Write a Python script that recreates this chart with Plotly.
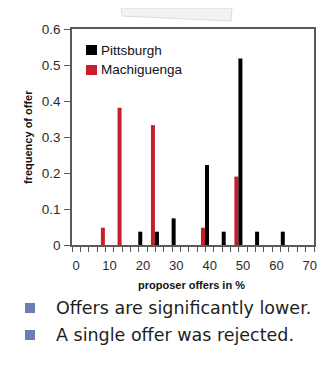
import plotly.graph_objects as go

# ---- data ----
series_names = ["Pittsburgh", "Machiguenga"]
pitt_x = [19.2, 24.2, 29.2, 39.2, 44.2, 49.2, 54.2, 61.9]
pitt_y = [0.037, 0.037, 0.074, 0.222, 0.037, 0.518, 0.037, 0.037]
mach_x = [8.0, 13.0, 23.0, 38.0, 48.0]
mach_y = [0.048, 0.381, 0.333, 0.048, 0.190]
x_ticks = [0, 10, 20, 30, 40, 50, 60, 70]
y_ticks = [0, 0.1, 0.2, 0.3, 0.4, 0.5, 0.6]
y_tick_text = ["0", "0.1", "0.2", "0.3", "0.4", "0.5", "0.6"]
bullets = ["Offers are significantly lower.", "A single offer was rejected."]

# page body has an 8px default margin; work in window coordinates
OFF = 8
W, H = 329 - OFF, 376 - OFF
L, R, T, B = 72 - OFF, 15, 29 - OFF, 131
PW, PH = W - L - R, H - T - B

def px(x):
    return (x - OFF - L) / PW

def py(y):
    return (H - B - (y - OFF)) / PH

RED = "#c81e2c"
BLACK = "#000000"
AX = "#5a5a5a"
TXT = "#2b2b2b"
BUL = "#6e7cb6"

fig = go.Figure()
fig.add_trace(go.Bar(x=mach_x, y=mach_y, width=1.2, marker=dict(color=RED, line=dict(width=0)),
                     name=series_names[1], showlegend=False))
fig.add_trace(go.Bar(x=pitt_x, y=pitt_y, width=1.2, marker=dict(color=BLACK, line=dict(width=0)),
                     name=series_names[0], showlegend=False))

fig.update_layout(
    width=W, height=H,
    margin=dict(l=L, r=R, t=T, b=B, pad=0, autoexpand=False),
    paper_bgcolor="white", plot_bgcolor="white",
    barmode="overlay",
    font=dict(family="Liberation Sans, Arial, sans-serif", color=TXT),
    xaxis=dict(
        range=[-1.25, 71.25], tickvals=x_ticks, ticktext=[str(v) for v in x_ticks],
        ticks="", showgrid=False, zeroline=False,
        showline=True, linecolor=AX, linewidth=1.5, mirror=True,
        tickfont=dict(size=13, color=TXT), ticklabelstandoff=8,
        minor=dict(tick0=-1.25, dtick=2.5, ticks="outside", ticklen=5, tickcolor=AX, tickwidth=1, showgrid=False),
    ),
    yaxis=dict(
        range=[0, 0.6], tickvals=y_ticks, ticktext=y_tick_text,
        ticks="outside", ticklen=6, tickcolor=AX, tickwidth=1,
        showgrid=False, zeroline=False,
        showline=True, linecolor=AX, linewidth=1.5, mirror=True,
        tickfont=dict(size=13.5, color=TXT), ticklabelstandoff=1,
    ),
)

shapes = []
annotations = []

# manual legend
for i, (name, col) in enumerate([(series_names[0], BLACK), (series_names[1], RED)]):
    yc = 50 + i * 20
    shapes.append(dict(type="rect", xref="paper", yref="paper",
                       x0=px(86), x1=px(97), y0=py(yc + 5), y1=py(yc - 5),
                       fillcolor=col, line=dict(width=0)))
    annotations.append(dict(text=name, xref="paper", yref="paper", x=px(98.5), y=py(yc),
                            xanchor="left", yanchor="middle", showarrow=False,
                            font=dict(size=13.5, color="#111")))

# axis titles
annotations.append(dict(text="<b>frequency of offer</b>", xref="paper", yref="paper",
                        x=px(28), y=py(137), textangle=-90, showarrow=False,
                        xanchor="center", yanchor="middle", font=dict(size=11, color="#111")))
annotations.append(dict(text="<b>proposer offers in %</b>", xref="paper", yref="paper",
                        x=px(191), y=py(285), showarrow=False,
                        xanchor="center", yanchor="middle", font=dict(size=11, color="#111")))

# bullets
for i, txt in enumerate(bullets):
    yc = 308 + i * 27
    shapes.append(dict(type="rect", xref="paper", yref="paper",
                       x0=px(25), x1=px(35), y0=py(yc + 5), y1=py(yc - 5),
                       fillcolor=BUL, line=dict(width=0)))
    annotations.append(dict(text=txt, xref="paper", yref="paper", x=px(54), y=py(yc),
                            xanchor="left", yanchor="middle", showarrow=False,
                            font=dict(family="DejaVu Sans, sans-serif", size=17.5, color="#1e1e1e")))

# faint paper scrap at the top
shapes.append(dict(type="path", xref="paper", yref="paper",
                   path=f"M {px(121)},{py(OFF)} L {px(232)},{py(OFF)} L {px(231)},{py(21)} L {px(122)},{py(16)} Z",
                   fillcolor="#f3f3f3", line=dict(color="#dcdcdc", width=1)))

fig.update_layout(shapes=shapes, annotations=annotations)
fig.write_html("out.html")
